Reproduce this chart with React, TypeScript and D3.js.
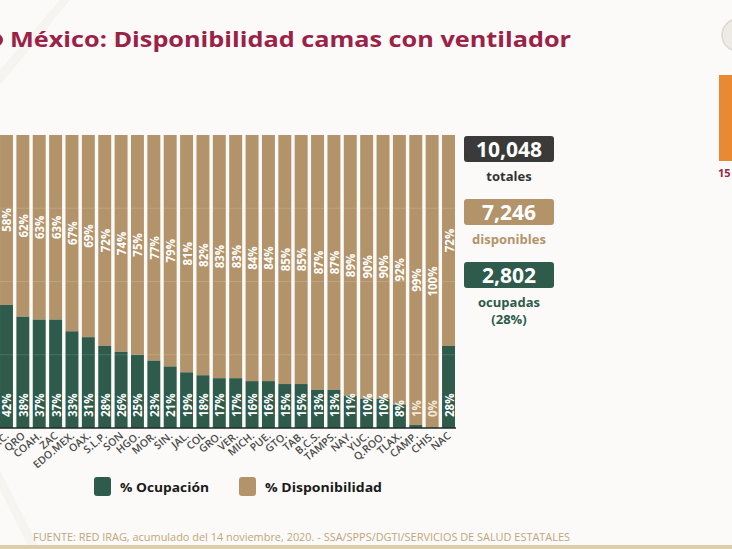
import React from "react";
import * as d3 from "d3";

const categories = ["B.C.", "QRO", "COAH.", "ZAC", "EDO.MEX.", "OAX.", "S.L.P.", "SON", "HGO.", "MOR.", "SIN.", "JAL.", "COL", "GRO.", "VER.", "MICH.", "PUE.", "GTO.", "TAB.", "B.C.S.", "TAMPS.", "NAY.", "YUC.", "Q.ROO.", "TLAX.", "CAMP.", "CHIS.", "NAC"];
const ocupacion = [42, 38, 37, 37, 33, 31, 28, 26, 25, 23, 21, 19, 18, 17, 17, 16, 16, 15, 15, 13, 13, 11, 10, 10, 8, 1, 0, 28];
const disponibilidad = [58, 62, 63, 63, 67, 69, 72, 74, 75, 77, 79, 81, 82, 83, 83, 84, 84, 85, 85, 87, 87, 89, 90, 90, 92, 99, 100, 72];
const gridTicks = [25, 50, 75];
const totals = [
  { value: "10,048", label: ["totales"], kind: "total" },
  { value: "7,246", label: ["disponibles"], kind: "disp" },
  { value: "2,802", label: ["ocupadas", "(28%)"], kind: "ocup" },
];
const legendItems = ["% Ocupación", "% Disponibilidad"];
const title = "México: Disponibilidad camas con ventilador";
const footer = "FUENTE: RED IRAG, acumulado del 14 noviembre, 2020. -  SSA/SPPS/DGTI/SERVICIOS DE SALUD ESTATALES";

const GREEN = "#2e5b4b";
const TAN = "#b3946a";
const DARK = "#3a3a3a";
const MAROON = "#9b2247";
const FONT = "'Open Sans', 'DejaVu Sans', sans-serif";

export default function App() {
  const W = 732, H = 549;
  const x = d3.scaleBand<string>().domain(categories).range([-1.7, 456.7]).paddingInner(0.21).paddingOuter(0.105);
  const y = d3.scaleLinear().domain([0, 100]).range([428, 135]);
  const bw = x.bandwidth();

  const boxColors: Record<string, string> = { total: DARK, disp: TAN, ocup: GREEN };
  const labelColors: Record<string, string> = { total: "#333", disp: TAN, ocup: GREEN };
  const boxY = [136, 199, 262];

  return (
    <svg width={W} height={H} style={{ position: "absolute", left: 0, top: 0 }} xmlns="http://www.w3.org/2000/svg">
      <rect x={0} y={0} width={W} height={H} fill="#fbfaf8" />
      {/* faint decorative background */}
      <path d="M0,70 L60,0 L70,0 L0,85 Z" fill="#f3f0eb" opacity={0.6} />
      <path d="M0,470 L40,549 L30,549 L0,490 Z" fill="#f3f0eb" opacity={0.6} />

      {/* title */}
      <circle cx={-3} cy={40} r={6} fill={MAROON} />
      <text x={10} y={47} fontFamily={FONT} fontWeight={700} fontSize={21} fill={MAROON} textLength={561} lengthAdjust="spacingAndGlyphs">{title}</text>

      {/* top right ornaments */}
      <circle cx={738} cy={35} r={16} fill="#eeebe5" stroke="#ddd7cc" strokeWidth={1.5} />
      <rect x={719} y={75} width={13} height={86} fill="#e98a33" />
      <text x={718} y={177} fontFamily={FONT} fontWeight={700} fontSize={11} fill={MAROON}>15</text>

      {/* bars */}
      {categories.map((c, i) => {
        const x0 = x(c)!;
        const yo = y(ocupacion[i]);
        return (
          <g key={c}>
            <rect x={x0} y={y(100)} width={bw} height={yo - y(100)} fill={TAN} />
            <rect x={x0} y={yo} width={bw} height={y(0) - yo} fill={GREEN} />
          </g>
        );
      })}
      {gridTicks.map((t) => (
        <line key={t} x1={0} x2={456} y1={y(t)} y2={y(t)} stroke="#ffffff" strokeOpacity={0.14} strokeWidth={1} />
      ))}
      <line x1={0} x2={456} y1={y(0)} y2={y(0)} stroke="#1e2a26" strokeWidth={1.5} />

      {/* value labels */}
      {categories.map((c, i) => {
        const cx = x(c)! + bw / 2 + 5;
        const midTan = (y(100) + y(ocupacion[i])) / 2;
        return (
          <g key={"l" + c} fontFamily={FONT} fontWeight={700} fontSize={11.5} fill="#ffffff">
            <text transform={`translate(${cx},${midTan}) rotate(-90)`} textAnchor="middle">{disponibilidad[i]}%</text>
            <text transform={`translate(${cx},${417}) rotate(-90)`} textAnchor="start" fill={ocupacion[i] < 5 ? "#f3ead9" : "#ffffff"}>{ocupacion[i]}%</text>
          </g>
        );
      })}

      {/* x labels */}
      {categories.map((c) => (
        <text key={"x" + c} transform={`translate(${x(c)! + bw / 2 + 3},${437}) rotate(-40)`} textAnchor="end" fontFamily={FONT} fontWeight={600} fontSize={10.5} fill="#4a4a4a">{c}</text>
      ))}

      {/* totals panel */}
      {totals.map((t, i) => (
        <g key={t.kind}>
          <rect x={464} y={boxY[i]} width={90} height={26} rx={3} fill={boxColors[t.kind]} />
          <text x={509} y={boxY[i] + 21} textAnchor="middle" fontFamily={FONT} fontWeight={700} fontSize={21} fill="#ffffff">{t.value}</text>
          {t.label.map((l, j) => (
            <text key={l} x={509} y={boxY[i] + 45 + j * 17} textAnchor="middle" fontFamily={FONT} fontWeight={700} fontSize={13} fill={labelColors[t.kind]}>{l}</text>
          ))}
        </g>
      ))}

      {/* legend */}
      <rect x={94} y={477} width={17} height={19} rx={3} fill={GREEN} />
      <text x={120} y={492} fontFamily={FONT} fontWeight={700} fontSize={13} fill="#1a1a1a" textLength={89} lengthAdjust="spacingAndGlyphs">{legendItems[0]}</text>
      <rect x={239} y={477} width={17} height={19} rx={3} fill={TAN} />
      <text x={265} y={492} fontFamily={FONT} fontWeight={700} fontSize={13} fill="#1a1a1a" textLength={117} lengthAdjust="spacingAndGlyphs">{legendItems[1]}</text>

      {/* footer */}
      <text x={33} y={541} fontFamily={FONT} fontSize={10} fill="#bfa67a" textLength={537} lengthAdjust="spacingAndGlyphs">{footer}</text>
      <rect x={0} y={545} width={W} height={4} fill="#dccdab" />
    </svg>
  );
}
